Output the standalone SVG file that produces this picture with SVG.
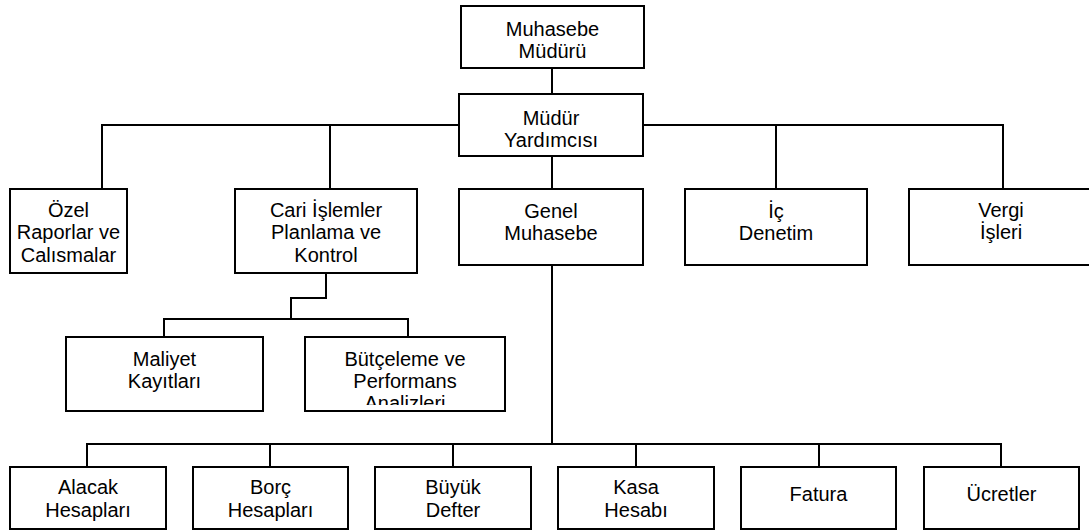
<svg xmlns="http://www.w3.org/2000/svg" width="1089" height="531" viewBox="0 0 1089 531">
  <style>
    .box { fill: #ffffff; stroke: #000000; stroke-width: 2; }
    .wire { fill: none; stroke: #000000; stroke-width: 2; }
    text { font-family: "Liberation Sans", Arial, sans-serif; font-size: 20px; fill: #000000; text-anchor: middle; }
  </style>
  <defs>
    <clipPath id="clip-butce">
      <rect x="305" y="337" width="200" height="68"/>
    </clipPath>
  </defs>
  <rect x="0" y="0" width="1089" height="531" fill="#ffffff"/>

  <!-- connectors -->
  <g id="connectors" class="wire">
    <line x1="552" y1="68" x2="552" y2="94"/>
    <path d="M102 189 V125 H459 M643 125 H1003 V189"/>
    <line x1="330" y1="125" x2="330" y2="189"/>
    <line x1="776" y1="125" x2="776" y2="189"/>
    <line x1="552" y1="156" x2="552" y2="189"/>
    <path d="M326 273 V298 H291 V319"/>
    <path d="M164 337 V319 H408 V337"/>
    <line x1="552" y1="265" x2="552" y2="444"/>
    <path d="M87 467 V444 H1001 V467"/>
    <line x1="270" y1="444" x2="270" y2="467"/>
    <line x1="453" y1="444" x2="453" y2="467"/>
    <line x1="636" y1="444" x2="636" y2="467"/>
    <line x1="819" y1="444" x2="819" y2="467"/>
  </g>

  <g id="muhasebe-muduru">
    <rect class="box" x="461" y="6" width="183" height="62"/>
    <text x="552.5" y="36">Muhasebe</text>
    <text x="552.5" y="58">Müdürü</text>
  </g>

  <g id="mudur-yardimcisi">
    <rect class="box" x="459" y="94" width="184" height="62"/>
    <text x="551" y="125">Müdür</text>
    <text x="551" y="147">Yardımcısı</text>
  </g>

  <g id="ozel-raporlar">
    <rect class="box" x="10" y="189" width="117" height="84"/>
    <text x="68.5" y="217">Özel</text>
    <text x="68.5" y="239">Raporlar ve</text>
    <text x="68.5" y="262">Calısmalar</text>
  </g>

  <g id="cari-islemler">
    <rect class="box" x="235" y="189" width="182" height="84"/>
    <text x="326" y="217">Cari İşlemler</text>
    <text x="326" y="239">Planlama ve</text>
    <text x="326" y="262">Kontrol</text>
  </g>

  <g id="genel-muhasebe">
    <rect class="box" x="459" y="189" width="184" height="76"/>
    <text x="551" y="218">Genel</text>
    <text x="551" y="240">Muhasebe</text>
  </g>

  <g id="ic-denetim">
    <rect class="box" x="685" y="189" width="182" height="76"/>
    <text x="776" y="218">İç</text>
    <text x="776" y="240">Denetim</text>
  </g>

  <g id="vergi-isleri">
    <rect class="box" x="909" y="189" width="184" height="76"/>
    <text x="1001" y="217">Vergi</text>
    <text x="1001" y="239">İşleri</text>
  </g>

  <g id="maliyet-kayitlari">
    <rect class="box" x="66" y="337" width="197" height="74"/>
    <text x="164.5" y="366">Maliyet</text>
    <text x="164.5" y="388">Kayıtları</text>
  </g>

  <g id="butceleme">
    <rect class="box" x="305" y="337" width="200" height="74"/>
    <text x="405" y="366">Bütçeleme ve</text>
    <text x="405" y="388">Performans</text>
    <text x="405" y="410" clip-path="url(#clip-butce)">Analizleri</text>
  </g>

  <g id="alacak-hesaplari">
    <rect class="box" x="10" y="467" width="156" height="62"/>
    <text x="88" y="494">Alacak</text>
    <text x="88" y="517">Hesapları</text>
  </g>

  <g id="borc-hesaplari">
    <rect class="box" x="193" y="467" width="155" height="62"/>
    <text x="270.5" y="494">Borç</text>
    <text x="270.5" y="517">Hesapları</text>
  </g>

  <g id="buyuk-defter">
    <rect class="box" x="375" y="467" width="156" height="62"/>
    <text x="453" y="494">Büyük</text>
    <text x="453" y="517">Defter</text>
  </g>

  <g id="kasa-hesabi">
    <rect class="box" x="558" y="467" width="156" height="62"/>
    <text x="636" y="494">Kasa</text>
    <text x="636" y="517">Hesabı</text>
  </g>

  <g id="fatura">
    <rect class="box" x="741" y="467" width="155" height="62"/>
    <text x="818.5" y="501">Fatura</text>
  </g>

  <g id="ucretler">
    <rect class="box" x="924" y="467" width="155" height="62"/>
    <text x="1001.5" y="501">Ücretler</text>
  </g>
</svg>
